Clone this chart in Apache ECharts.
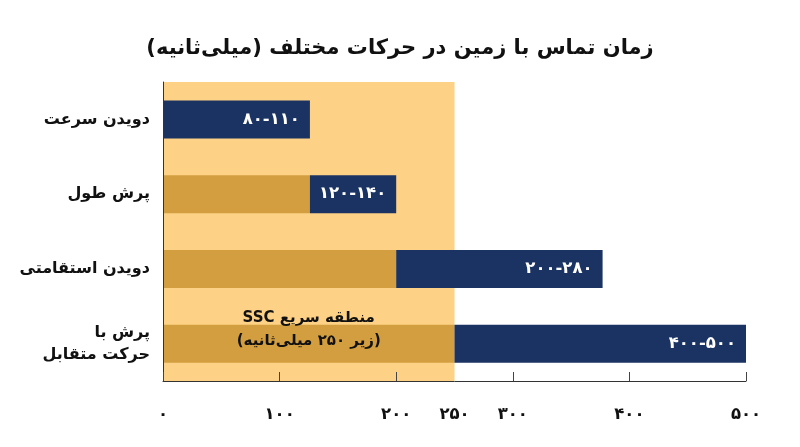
<!DOCTYPE html>
<html>
<head>
<meta charset="utf-8">
<script src="https://cdn.jsdelivr.net/npm/echarts@6/dist/echarts.min.js"></script>
<style>
  html, body { margin: 0; padding: 0; background: #ffffff; }
  #chart { width: 800px; height: 447px; }
</style>
</head>
<body>
<div id="chart" dir="rtl"></div>
<script type="text/javascript">

// data
var categories = ['دویدن سرعت', 'پرش طول', 'دویدن استقامتی', 'پرش با\nحرکت متقابل'];
var rangeLabels = ['۸۰-۱۱۰', '۱۲۰-۱۴۰', '۲۰۰-۲۸۰', '۴۰۰-۵۰۰'];
var barStart = [0, 126, 200, 250];
var barEnd = [126, 200, 377, 500];
var tickValues = [0, 100, 200, 250, 300, 400, 500];
var zoneStart = 0;
var zoneEnd = 250;
var titleText = 'زمان تماس با زمین در حرکات مختلف (میلی‌ثانیه)';
var zoneText = 'منطقه سریع SSC\n(زیر ۲۵۰ میلی‌ثانیه)';

var FONT = "'DejaVu Sans', 'Noto Sans', sans-serif";

function faDigits(v) {
    return String(v).replace(/\d/g, function (d) { return '۰۱۲۳۴۵۶۷۸۹'[d]; });
}

var barLength = [];
for (var i = 0; i < barEnd.length; i++) {
    barLength.push(barEnd[i] - barStart[i]);
}

var chart = echarts.init(document.getElementById('chart'));

var option = {
    backgroundColor: '#ffffff',
    animation: false,
    title: {
        text: titleText,
        left: 'center',
        top: 33,
        textStyle: {
            color: '#111111',
            fontFamily: FONT,
            fontWeight: 'bold',
            fontSize: 21
        }
    },
    grid: {
        left: 163,
        right: 54,
        top: 82,
        bottom: 66
    },
    xAxis: {
        type: 'value',
        min: 0,
        max: 500,
        interval: 100,
        z: 5,
        splitLine: { show: false },
        axisLine: { show: true, lineStyle: { color: '#333333', width: 1 } },
        axisTick: { show: true, inside: true, length: 9, lineStyle: { color: '#444444' } },
        axisLabel: {
            customValues: tickValues,
            margin: 25,
            color: '#111111',
            fontFamily: FONT,
            fontWeight: 'bold',
            fontSize: 16.5,
            formatter: function (v) { return faDigits(v); }
        }
    },
    yAxis: {
        type: 'category',
        inverse: true,
        data: categories,
        z: 5,
        axisLine: { show: true, lineStyle: { color: '#333333', width: 1 } },
        axisTick: { show: false },
        axisLabel: {
            margin: 13,
            color: '#111111',
            fontFamily: FONT,
            fontWeight: 'bold',
            fontSize: 16,
            lineHeight: 22,
            align: 'right'
        }
    },
    series: [
        {
            name: 'zone',
            type: 'bar',
            data: [],
            silent: true,
            markArea: {
                silent: true,
                z: 1,
                itemStyle: { color: '#FDD286' },
                label: { show: false },
                data: [[{ xAxis: zoneStart }, { xAxis: zoneEnd }]]
            }
        },
        {
            name: 'base',
            type: 'bar',
            stack: 'range',
            barWidth: 38,
            z: 2,
            itemStyle: { color: '#D29E3F' },
            data: barStart
        },
        {
            name: 'range',
            type: 'bar',
            stack: 'range',
            barWidth: 38,
            z: 3,
            itemStyle: { color: '#1A3363' },
            label: {
                show: true,
                position: 'insideRight',
                distance: 10,
                color: '#ffffff',
                fontFamily: FONT,
                fontWeight: 'bold',
                fontSize: 16.5,
                formatter: function (p) { return rangeLabels[p.dataIndex]; }
            },
            data: barLength,
            markArea: {
                silent: true,
                z: 10,
                itemStyle: { color: 'rgba(0,0,0,0)' },
                label: {
                    show: true,
                    position: 'insideBottom',
                    distance: 28,
                    color: '#111111',
                    fontFamily: FONT,
                    fontWeight: 'bold',
                    fontSize: 15,
                    lineHeight: 23,
                    align: 'center',
                    formatter: zoneText
                },
                data: [[{ xAxis: zoneStart }, { xAxis: zoneEnd }]]
            }
        }
    ]
};

chart.setOption(option);

</script>
</body>
</html>
